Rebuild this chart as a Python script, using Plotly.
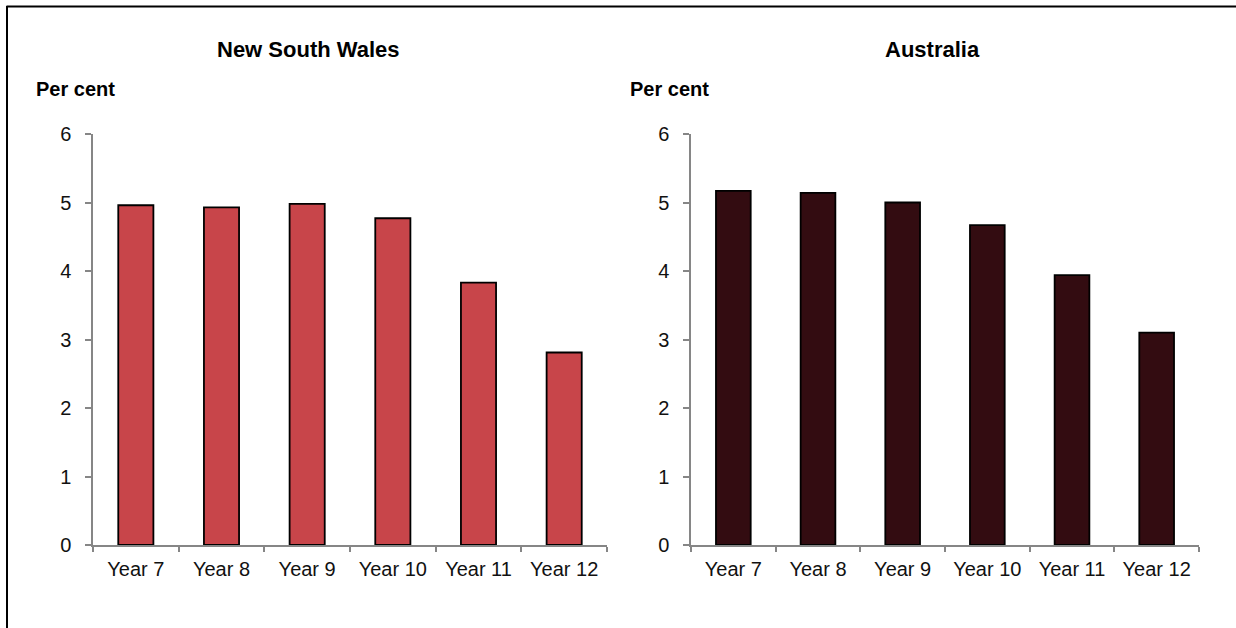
import plotly.graph_objects as go

# Data
years = ["Year 7", "Year 8", "Year 9", "Year 10", "Year 11", "Year 12"]
nsw = [4.96, 4.93, 4.98, 4.77, 3.83, 2.81]
australia = [5.17, 5.14, 5.00, 4.67, 3.94, 3.10]

W, H = 1236, 628      # reference picture size (positions below are in these pixels)
FIG_H = 650           # drawn a little taller, see pin_plot at the end
font = "Liberation Sans, Arial, sans-serif"

fig = go.Figure()

fig.add_trace(go.Bar(
    x=years, y=nsw, xaxis="x", yaxis="y",
    marker=dict(color="#C8454A", line=dict(color="#000000", width=1.8)),
    hoverinfo="x+y", showlegend=False
))
fig.add_trace(go.Bar(
    x=years, y=australia, xaxis="x2", yaxis="y2",
    marker=dict(color="#330C11", line=dict(color="#000000", width=1.8)),
    hoverinfo="x+y", showlegend=False
))

x_common = dict(
    type="category", showgrid=False, showline=True, linecolor="#868686", linewidth=1.5,
    ticks="outside", tickson="boundaries", ticklen=5, tickcolor="#868686", tickwidth=1.5,
    tickfont=dict(family=font, size=20, color="#111111"), ticklabelstandoff=5,
    fixedrange=True
)
y_common = dict(
    range=[0, 6], dtick=1, showgrid=False, zeroline=False, showline=True,
    linecolor="#868686", linewidth=1.5, ticks="outside", ticklen=6,
    tickcolor="#868686", tickwidth=1.5,
    tickfont=dict(family=font, size=20, color="#111111"), ticklabelstandoff=10,
    fixedrange=True
)

ytop = 1 - 134 / H
ybot = 1 - 545 / H

fig.update_layout(
    width=W, height=FIG_H,
    margin=dict(l=0, r=0, t=0, b=0),
    paper_bgcolor="white", plot_bgcolor="white",
    bargap=0.59,
    xaxis=dict(domain=[93 / W, 607 / W], anchor="y", **x_common),
    yaxis=dict(domain=[ybot, ytop], anchor="x", **y_common),
    xaxis2=dict(domain=[691 / W, 1199 / W], anchor="y2", **x_common),
    yaxis2=dict(domain=[ybot, ytop], anchor="x2", **y_common),
    font=dict(family=font, color="#000000"),
)

# Panel titles and unit labels
annots = [
    dict(text="<b>New South Wales</b>", x=308 / W, y=1 - 50 / H, size=22, xanchor="center"),
    dict(text="<b>Australia</b>", x=932 / W, y=1 - 50 / H, size=22, xanchor="center"),
    dict(text="<b>Per cent</b>", x=34 / W, y=1 - 89 / H, size=20, xanchor="left"),
    dict(text="<b>Per cent</b>", x=628 / W, y=1 - 89 / H, size=20, xanchor="left"),
]
for a in annots:
    fig.add_annotation(
        text=a["text"], xref="paper", yref="paper", x=a["x"], y=a["y"],
        xanchor=a["xanchor"], yanchor="middle", showarrow=False,
        font=dict(family=font, size=a["size"], color="#000000")
    )

# Outer frame (only top and left edges visible in the reference)
fig.add_shape(type="line", xref="paper", yref="paper",
              x0=6.5 / W, x1=1.01, y0=1 - 6.5 / H, y1=1 - 6.5 / H,
              line=dict(color="#000000", width=2))
fig.add_shape(type="line", xref="paper", yref="paper",
              x0=7 / W, x1=7 / W, y0=1 - 6 / H, y1=-0.01,
              line=dict(color="#000000", width=2))

pin_plot = (
    "document.body.style.margin='0';"
    "document.body.style.overflow='hidden';"
    "var d=document.getElementById('{plot_id}');"
    "d.style.position='fixed';d.style.top='-11px';d.style.left='0px';"
)
fig.write_html("out.html", config={"displayModeBar": False}, post_script=pin_plot)
